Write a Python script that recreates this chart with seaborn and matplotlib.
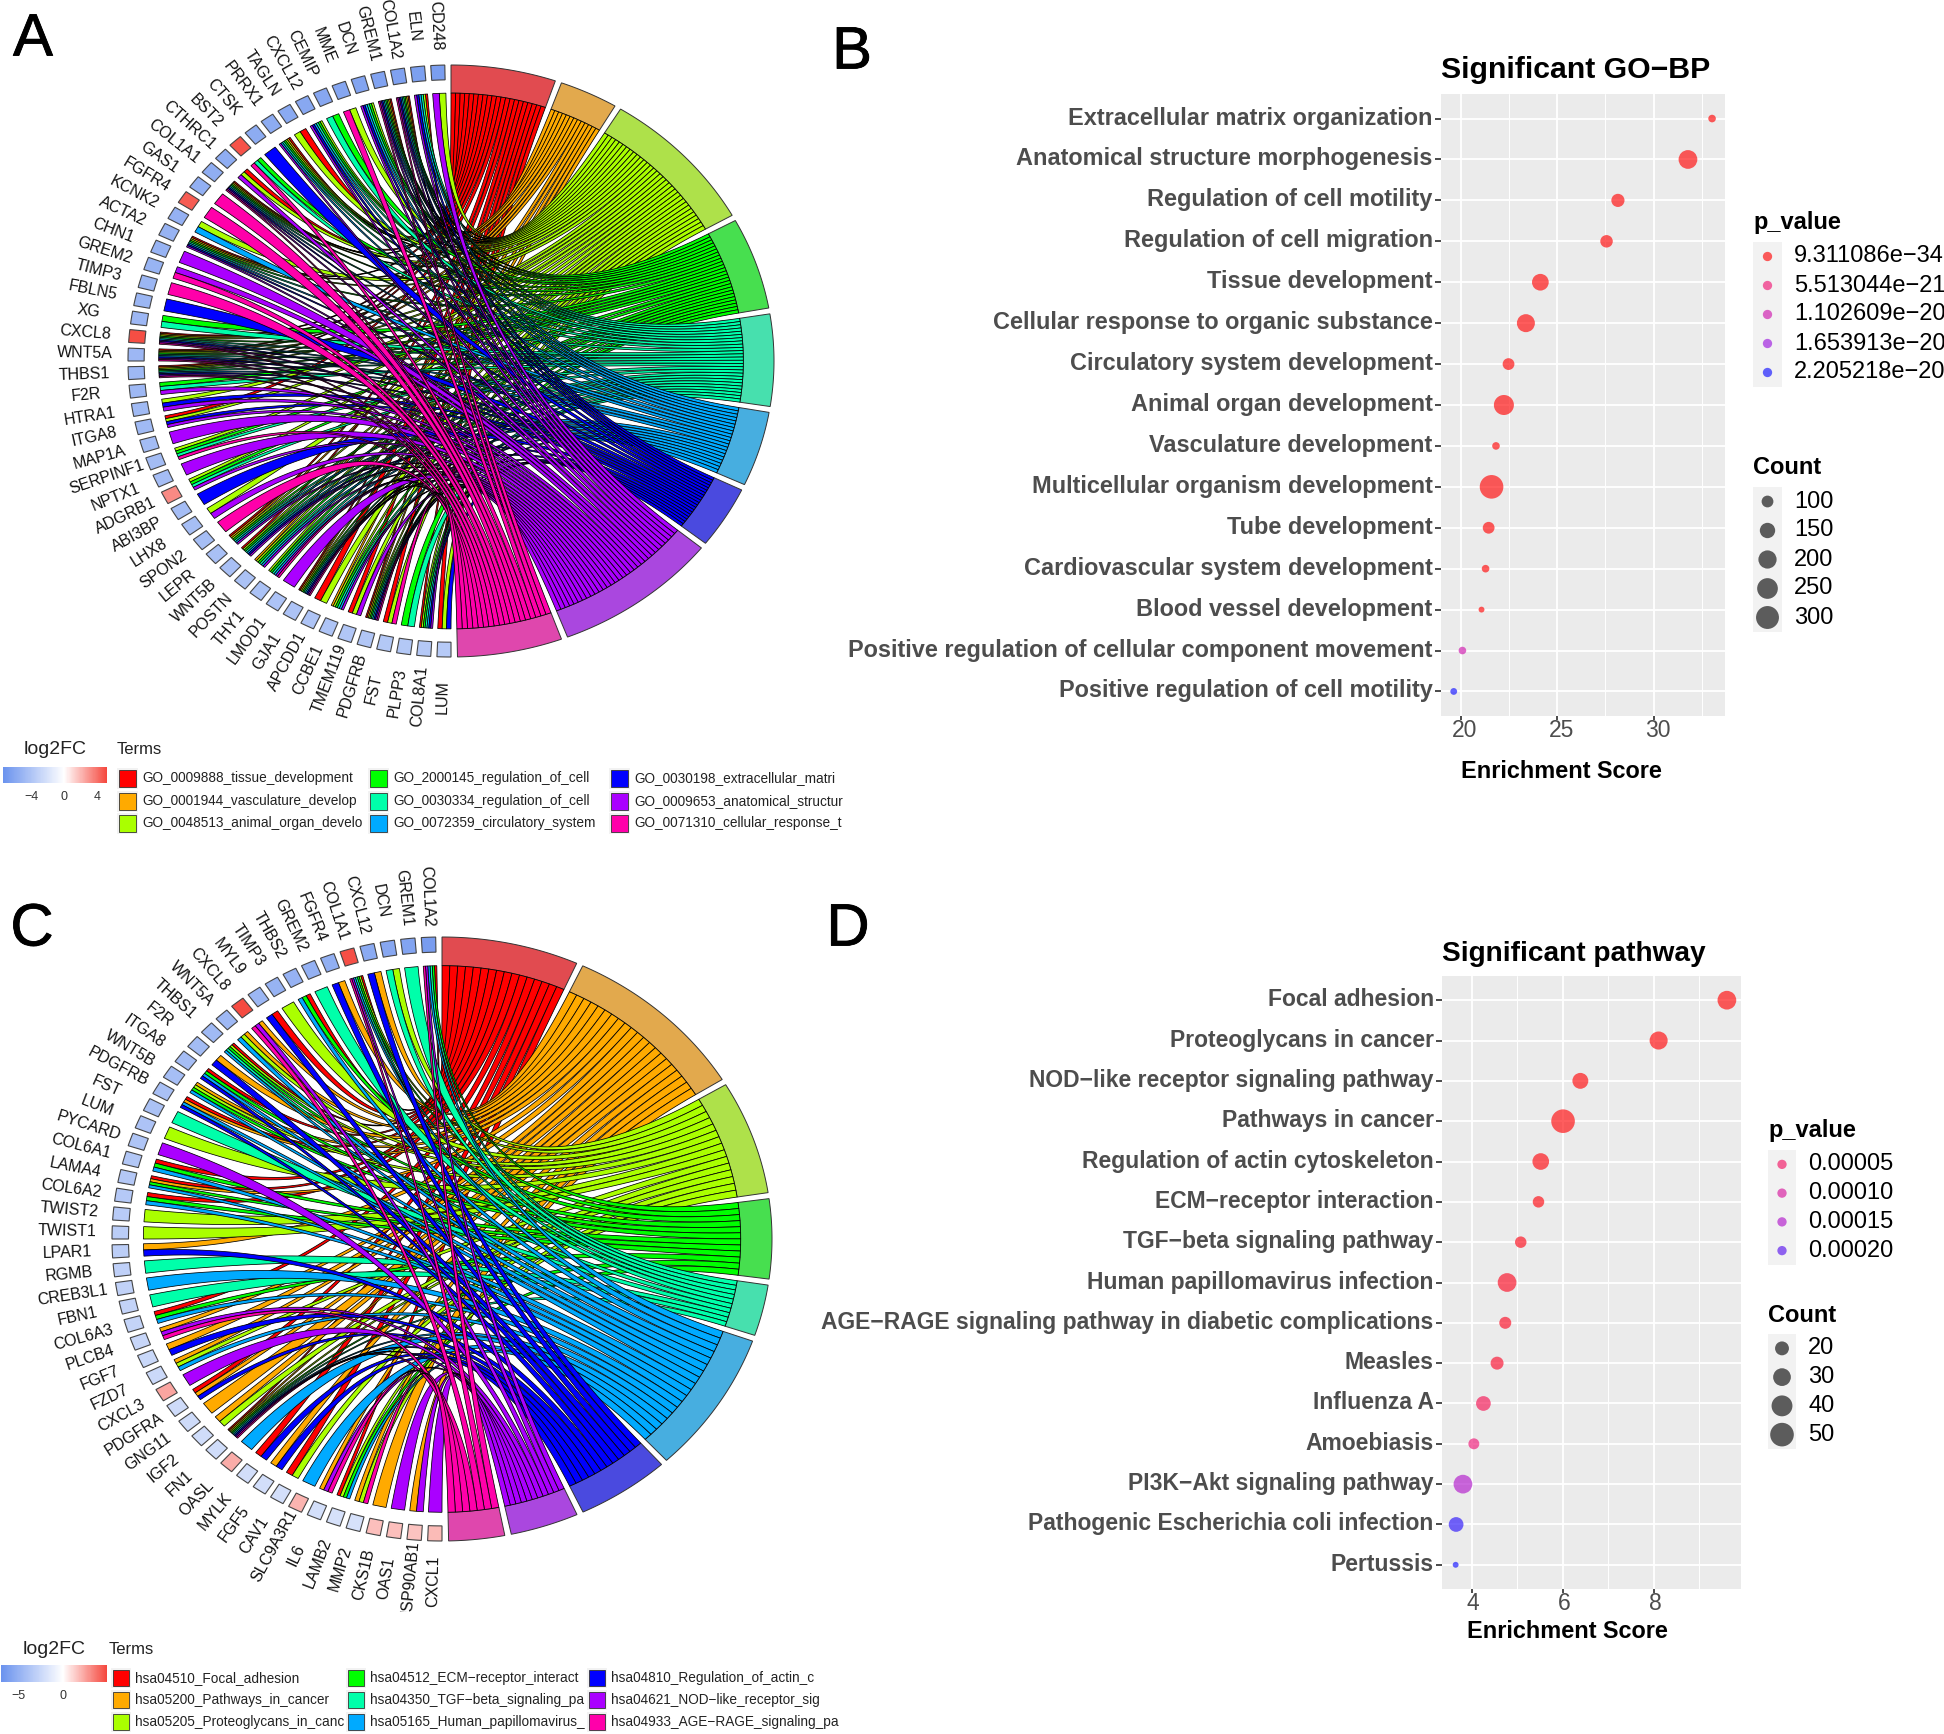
import numpy as np
import pandas as pd
import matplotlib
matplotlib.use("Agg")
import matplotlib.pyplot as plt
import matplotlib.patheffects as pe
import seaborn as sns
from matplotlib.colors import LinearSegmentedColormap, TwoSlopeNorm
from matplotlib.patches import Rectangle
from matplotlib.transforms import ScaledTranslation

# panel A
genes_a = ["CD248", "ELN", "COL1A2", "GREM1", "DCN", "MME", "CEMIP", "CXCL12", "TAGLN", "PRRX1",
           "CTSK", "BST2", "CTHRC1", "COL1A1", "GAS1", "FGFR4", "KCNK2", "ACTA2", "CHN1", "GREM2",
           "TIMP3", "FBLN5", "XG", "CXCL8", "WNT5A", "THBS1", "F2R", "HTRA1", "ITGA8", "MAP1A",
           "SERPINF1", "NPTX1", "ADGRB1", "ABI3BP", "LHX8", "SPON2", "LEPR", "WNT5B", "POSTN", "THY1",
           "LMOD1", "GJA1", "APCDD1", "CCBE1", "TMEM119", "PDGFRB", "FST", "PLPP3", "COL8A1", "LUM"]
# terms of each gene, digits 1-9 are the nine GO terms
links_a = ["38", "135678", "123456789", "123456789", "345678", "39", "45", "345678", "13", "1234568",
           "7", "459", "138", "123456789", "9", "9", "36", "12345678", "8", "89",
           "9", "7", "45", "123456789", "123456789", "123456789", "458", "378", "1378", "8",
           "3459", "8", "3458", "7", "38", "9", "1234568", "1345678", "234568", "345689",
           "8", "123456789", "13", "234568", "138", "123456789", "139", "45", "1345678", "137"]
logfc_a = [-6.6, -6.5, -6.4, -6.3, -6.2, -6.1, -6.0, -5.9, -5.8, -5.7,
           -5.7, 4.9, -5.6, -5.5, -5.4, 4.6, -5.3, -5.2, -5.2, -5.1,
           -5.0, -5.0, -4.9, 5.0, -4.9, -4.8, -4.8, -4.7, -4.7, -4.6,
           -4.6, -4.5, 3.3, -4.5, -4.4, -4.4, -4.3, -4.3, -4.2, -4.2,
           -4.1, -4.1, -4.0, -4.0, -3.9, -3.9, -3.8, -3.8, -3.7, -3.6]
term_size_a = [24, 14, 36, 23, 23, 19, 16, 37, 24]
terms_a = ["GO_0009888_tissue_development", "GO_0001944_vasculature_develop", "GO_0048513_animal_organ_develo",
           "GO_2000145_regulation_of_cell", "GO_0030334_regulation_of_cell", "GO_0072359_circulatory_system",
           "GO_0030198_extracellular_matri", "GO_0009653_anatomical_structur", "GO_0071310_cellular_response_t"]

# panel C
genes_c = ["COL1A2", "GREM1", "DCN", "CXCL12", "COL1A1", "FGFR4", "GREM2", "THBS2", "TIMP3", "MYL9",
           "CXCL8", "WNT5A", "THBS1", "F2R", "ITGA8", "WNT5B", "PDGFRB", "FST", "LUM", "PYCARD",
           "COL6A1", "LAMA4", "COL6A2", "TWIST2", "TWIST1", "LPAR1", "RGMB", "CREB3L1", "FBN1", "COL6A3",
           "PLCB4", "FGF7", "FZD7", "CXCL3", "PDGFRA", "GNG11", "IGF2", "FN1", "OASL", "MYLK",
           "FGF5", "CAV1", "SLC9A3R1", "IL6", "LAMB2", "MMP2", "CKS1B", "OAS1", "HSP90AB1", "CXCL1"]
links_c = ["145689", "5", "35", "27", "1345689", "27", "5", "146", "3", "17",
           "289", "236", "13456", "27", "1467", "2346", "1267", "5", "3", "8",
           "146", "1246", "146", "3", "3", "27", "5", "6", "5", "146",
           "289", "27", "236", "8", "127", "2", "23", "123456789", "6", "17",
           "27", "13", "6", "289", "1346", "239", "2", "8", "28", "8"]
logfc_c = [-6.3, -5.8, -5.6, -5.4, 4.7, -5.1, -5.0, -4.9, -4.8, -4.6,
           4.8, -4.5, -4.4, -4.3, -4.2, -4.1, -4.0, -3.9, -3.8, -3.7,
           -3.6, -3.5, -3.4, -3.3, -3.2, -3.1, -3.0, -2.9, -2.8, -2.7,
           -2.6, -2.5, -2.4, 2.4, -2.3, -2.3, -2.2, -2.2, 2.2, -2.1,
           -2.1, -2.0, 2.0, -2.0, -1.9, -1.9, 1.7, 1.7, 1.6, 1.8]
term_size_c = [23, 31, 21, 15, 10, 26, 16, 12, 10]
terms_c = ["hsa04510_Focal_adhesion", "hsa05200_Pathways_in_cancer", "hsa05205_Proteoglycans_in_canc",
           "hsa04512_ECM\u2212receptor_interact", "hsa04350_TGF\u2212beta_signaling_pa", "hsa05165_Human_papillomavirus_",
           "hsa04810_Regulation_of_actin_c", "hsa04621_NOD\u2212like_receptor_sig", "hsa04933_AGE\u2212RAGE_signaling_pa"]

term_colors = ["#ff0000", "#ffaa00", "#aaff00", "#00ff00", "#00ffaa", "#00aaff", "#0000ff", "#aa00ff", "#ff00aa"]
band_colors = ["#e14b50", "#e2a94d", "#aee14a", "#47df4f", "#47e0ae", "#47aee0", "#4a4adf", "#aa47df", "#df47ad"]

# panel B
bp_terms = ["Extracellular matrix organization", "Anatomical structure morphogenesis", "Regulation of cell motility",
            "Regulation of cell migration", "Tissue development", "Cellular response to organic substance",
            "Circulatory system development", "Animal organ development", "Vasculature development",
            "Multicellular organism development", "Tube development", "Cardiovascular system development",
            "Blood vessel development", "Positive regulation of cellular component movement",
            "Positive regulation of cell motility"]
bp_score = [33.03, 31.78, 28.15, 27.56, 24.13, 23.38, 22.48, 22.24, 21.83, 21.6, 21.45, 21.29, 21.08, 20.09, 19.64]
bp_count = [58, 210, 118, 109, 173, 196, 100, 236, 58, 317, 100, 58, 46, 58, 52]
bp_p = [9.3e-34, 2e-29, 1e-27, 1e-27, 1e-26, 1e-26, 1e-25, 1e-25, 2e-25, 1e-25, 1e-24, 1e-24, 1e-23, 1.1e-20, 2.2e-20]
bp_p_legend = [9.311086e-34, 5.513044e-21, 1.102609e-20, 1.653913e-20, 2.205218e-20]
bp_p_labels = ["9.311086e\u221234", "5.513044e\u221221", "1.102609e\u221220", "1.653913e\u221220", "2.205218e\u221220"]
bp_count_legend = [100, 150, 200, 250, 300]

# panel D
kegg_terms = ["Focal adhesion", "Proteoglycans in cancer", "NOD\u2212like receptor signaling pathway", "Pathways in cancer",
              "Regulation of actin cytoskeleton", "ECM\u2212receptor interaction", "TGF\u2212beta signaling pathway",
              "Human papillomavirus infection", "AGE\u2212RAGE signaling pathway in diabetic complications", "Measles",
              "Influenza A", "Amoebiasis", "PI3K\u2212Akt signaling pathway", "Pathogenic Escherichia coli infection", "Pertussis"]
kegg_score = [9.61, 8.11, 6.39, 6.01, 5.52, 5.47, 5.08, 4.78, 4.74, 4.56, 4.26, 4.05, 3.81, 3.66, 3.65]
kegg_count = [33, 31, 25, 50, 27, 15, 15, 33, 16, 18, 22, 14, 33, 22, 7]
kegg_p = [1e-7, 1e-6, 2e-6, 2e-6, 4e-6, 5e-6, 1e-5, 1.5e-5, 1.5e-5, 2e-5, 4e-5, 6e-5, 1.5e-4, 2.2e-4, 2.3e-4]
kegg_p_legend = [0.00005, 0.00010, 0.00015, 0.00020]
kegg_p_labels = ["0.00005", "0.00010", "0.00015", "0.00020"]
kegg_count_legend = [20, 30, 40, 50]

W, H = 1944, 1734
sns.set_theme(style="darkgrid")
plt.rcParams['font.family'] = ['Liberation Sans', 'DejaVu Sans']

fig = plt.figure(figsize=(W / 100, H / 100), dpi=100, facecolor="white")


def px_axes(left, top, right, bottom, **kw):
    return fig.add_axes([left / W, 1 - bottom / H, (right - left) / W, (bottom - top) / H], **kw)


overlay = px_axes(0, 0, W, H)
overlay.set_xlim(0, W)
overlay.set_ylim(H, 0)
overlay.axis("off")
overlay.set_zorder(5)

fc_cmap = LinearSegmentedColormap.from_list("fc", ["#6b93ee", "#ffffff", "#f5483e"])
p_cmap = LinearSegmentedColormap.from_list("p", ["#ff1010", "#f0207a", "#d020b0", "#a020e0", "#1a1aff"])


def arc(theta1, theta2, r, n=12):
    th = np.radians(np.linspace(theta1, theta2, n))
    return np.column_stack([r * np.cos(th), r * np.sin(th)])


def draw_chord(box, center, radii, genes, links, term_size, logfc, fc_norm):
    ax = px_axes(*box)
    ax.patch.set_alpha(0)
    cx, cy = center
    rx, ry = radii
    ax.set_xlim((box[0] - cx) / rx, (box[2] - cx) / rx)
    ax.set_ylim((cy - box[3]) / ry, (cy - box[1]) / ry)
    ax.axis("off")
    r_in = 0.905
    pitch = 180 / len(genes)
    gene_gap = 1.0
    term_gap = 1.15

    # slots of the terms
    term_slots = []
    start = 90.0
    for j, size in enumerate(term_size):
        span = 180 * size / sum(term_size)
        end = start - span + term_gap
        band = np.vstack([arc(start, end, 1.0, 40), arc(end, start, r_in, 40)])
        ax.fill(band[:, 0], band[:, 1], facecolor=band_colors[j], edgecolor="#333333", linewidth=0.7)
        n = sum(str(j + 1) in lk for lk in links)
        term_slots.append(np.linspace(start, end, n + 1))
        start -= span

    # slots of the genes
    ribbons = {j: [] for j in range(len(term_size))}
    for g, name in enumerate(genes):
        lo = 90 + g * pitch + gene_gap
        hi = 90 + (g + 1) * pitch
        edges = np.linspace(lo, hi, len(links[g]) + 1)
        for k, ch in enumerate(links[g]):
            ribbons[int(ch) - 1].append((edges[k], edges[k + 1]))
        box_pts = np.vstack([arc(lo + 0.1, hi, 1.0, 6), arc(hi, lo + 0.1, 0.95, 6)])
        ax.fill(box_pts[:, 0], box_pts[:, 1], facecolor=fc_cmap(fc_norm(logfc[g])), edgecolor="#444444", linewidth=0.8)
        mid = np.radians((lo + hi) / 2)
        dx, dy = rx * np.cos(mid), ry * np.sin(mid)
        rot = np.degrees(np.arctan2(dy, dx)) % 360 - 180
        ax.text(1.135 * np.cos(mid), 1.135 * np.sin(mid), name, rotation=rot, rotation_mode="anchor",
                ha="center", va="center", fontsize=11.5, color="#111111", clip_on=True)

    # ribbons, quadratic curve pulled to the centre
    t = np.linspace(0, 1, 61)[:, None]
    for j in range(len(term_size)):
        for i, (g_lo, g_hi) in enumerate(ribbons[j]):
            a1, a2 = np.radians(term_slots[j][i]), np.radians(term_slots[j][i + 1])
            b1, b2 = np.radians(g_lo), np.radians(g_hi)
            p1 = r_in * np.array([np.cos(a1), np.sin(a1)])
            p2 = r_in * np.array([np.cos(a2), np.sin(a2)])
            q1 = r_in * np.array([np.cos(b1), np.sin(b1)])
            q2 = r_in * np.array([np.cos(b2), np.sin(b2)])
            c1 = (1 - t) ** 2 * p1 + t ** 2 * q1
            c2 = (1 - t) ** 2 * p2 + t ** 2 * q2
            poly = np.vstack([c1, c2[::-1]])
            ax.fill(poly[:, 0], poly[:, 1], facecolor=term_colors[j], edgecolor="black", linewidth=0.55)
    return ax


def chord_legend(bar, fc_norm, ticks, tick_y, title_y, terms_x, key_cols, key_rows, labels, key_size):
    left, top, right, bottom = bar
    vals = np.linspace(fc_norm.vmin, fc_norm.vmax, 200)
    edges = np.linspace(left, right, 201)
    overlay.pcolormesh(edges, [top, bottom], vals[None, :], cmap=fc_cmap, norm=fc_norm)
    overlay.set_xlim(0, W)
    overlay.set_ylim(H, 0)
    scale = (right - left) / (fc_norm.vmax - fc_norm.vmin)
    for v in ticks:
        x = left + (v - fc_norm.vmin) * scale
        overlay.text(x, tick_y, str(v).replace("-", "\u2212"), ha="center", va="center", fontsize=9, color="#333333")
    overlay.text((left + right) / 2, title_y, "log2FC", ha="center", va="center", fontsize=14, color="#222222")
    overlay.text(terms_x, title_y, "Terms", ha="left", va="center", fontsize=12, color="#222222")
    idx = 0
    for col in key_cols:
        for row in key_rows:
            overlay.add_patch(Rectangle((col - 2, row - key_size / 2 - 2), key_size + 4, key_size + 4, facecolor="#f2f2f2", edgecolor="none"))
            overlay.add_patch(Rectangle((col, row - key_size / 2), key_size, key_size, facecolor=term_colors[idx], edgecolor="#333333", linewidth=0.6))
            overlay.text(col + key_size + 6, row, labels[idx], ha="left", va="center", fontsize=9.8, color="#222222", clip_on=True)
            idx += 1


def dot_panel(box, terms, score, count, pvals, p_max, xlim, ticks, minor, title, title_size, title_y, xlabel_x, xlabel_y, tick_dx, label_size):
    ax = px_axes(*box)
    df = pd.DataFrame({"term": terms, "score": score, "count": count, "p": pvals})
    sns.scatterplot(data=df, x="score", y="term", hue="p", size="count", ax=ax, palette=p_cmap, hue_norm=(0, p_max),
                    sizes=(18, 289), size_norm=(min(count), max(count)), alpha=0.68, linewidth=0, legend=False, zorder=3)
    ax.set_facecolor("#ebebeb")
    ax.set_xlim(*xlim)
    ax.set_ylim(len(terms) - 0.4, -0.6)
    ax.set_xticks(ticks)
    ax.set_xticks(minor, minor=True)
    ax.grid(which="major", color="white", linewidth=1.3)
    ax.grid(which="minor", axis="x", color="white", linewidth=0.7)
    ax.tick_params(axis="x", which="major", length=3, color="#333333", labelsize=16.5, labelcolor="#4d4d4d", pad=0, bottom=True)
    ax.tick_params(axis="x", which="minor", length=0)
    ax.tick_params(axis="y", length=4, color="#333333", pad=2, left=True)
    shift_x = ScaledTranslation(tick_dx / 100, 1 / 100, fig.dpi_scale_trans)
    shift_y = ScaledTranslation(0, 3 / 100, fig.dpi_scale_trans)
    for lab in ax.get_xticklabels():
        lab.set_transform(lab.get_transform() + shift_x)
    for lab in ax.get_yticklabels():
        lab.set_fontsize(label_size)
        lab.set_fontweight("bold")
        lab.set_color("#4d4d4d")
        lab.set_transform(lab.get_transform() + shift_y)
    for sp in ax.spines.values():
        sp.set_visible(False)
    ax.set_xlabel("")
    ax.set_ylabel("")
    overlay.text(box[0], title_y, title, ha="left", va="center", fontsize=title_size, fontweight="bold", color="black")
    overlay.text(xlabel_x, xlabel_y, "Enrichment Score", ha="center", va="center", fontsize=16.9, fontweight="bold", color="black")
    return ax


def dot_legend(title, title_y, key_box, x_label, values, labels, hue=None, p_max=None, cnt_range=None):
    n = len(values)
    ax = px_axes(*key_box)
    ax.set_facecolor("#f2f2f2")
    rows = list(range(n))
    if hue is not None:
        d = pd.DataFrame({"x": [0] * n, "y": rows, "p": values})
        sns.scatterplot(data=d, x="x", y="y", hue="p", palette=p_cmap, hue_norm=(0, p_max), s=45, alpha=0.68, linewidth=0, legend=False, ax=ax)
    else:
        d = pd.DataFrame({"x": [0] * n, "y": rows, "c": values})
        sns.scatterplot(data=d, x="x", y="y", size="c", sizes=(18, 289), size_norm=cnt_range, color="black", alpha=0.62, linewidth=0, legend=False, ax=ax)
    ax.set_xlim(-1, 1)
    ax.set_ylim(n - 0.5, -0.5)
    ax.grid(False)
    ax.set_xticks([])
    ax.set_yticks([])
    ax.set_xlabel("")
    ax.set_ylabel("")
    for sp in ax.spines.values():
        sp.set_visible(False)
    row_h = (key_box[3] - key_box[1]) / n
    for i, lab in enumerate(labels):
        overlay.text(x_label, key_box[1] + (i + 0.5) * row_h, lab, ha="left", va="center", fontsize=17, color="black")
    overlay.text(key_box[0], title_y, title, ha="left", va="center", fontsize=17, fontweight="bold", color="black")


# chord diagrams
norm_a = TwoSlopeNorm(vmin=-7.4, vcenter=0, vmax=5.2)
norm_c = TwoSlopeNorm(vmin=-6.9, vcenter=0, vmax=4.9)
draw_chord((0, 0, 840, 740), (451, 361), (323, 296), genes_a, links_a, term_size_a, logfc_a, norm_a)
draw_chord((0, 860, 840, 1612), (442, 1239), (330, 302), genes_c, links_c, term_size_c, logfc_c, norm_c)

chord_legend((3, 767, 107, 783), norm_a, [-4, 0, 4], 797, 750, 117, [119, 370, 611], [778, 801, 823], terms_a, 17)
chord_legend((1, 1665, 107, 1682), norm_c, [-5, 0], 1696, 1649, 109, [113, 348, 589], [1678, 1700, 1722], terms_c, 16)

# dot plots
dot_panel((1441, 94, 1725, 716), bp_terms, bp_score, bp_count, bp_p, 2.205218e-20, (18.98, 33.7), [20, 25, 30], [22.5, 27.5, 32.5],
          "Significant GO\u2212BP", 21.8, 70, 1561, 772, 4, 16.9)
dot_legend("p_value", 222, (1753, 242, 1782, 387), 1794, bp_p_legend, bp_p_labels, hue=True, p_max=2.205218e-20)
dot_legend("Count", 468, (1753, 487, 1782, 632), 1794, bp_count_legend, [str(v) for v in bp_count_legend], cnt_range=(46, 317))

dot_panel((1442, 976, 1741, 1589), kegg_terms, kegg_score, kegg_count, kegg_p, 2.3e-4, (3.35, 9.92), [4, 6, 8], [5, 7, 9],
          "Significant pathway", 20.2, 954, 1567, 1632, 1.5, 16.5)
dot_legend("p_value", 1131, (1768, 1150, 1796, 1265), 1808, kegg_p_legend, kegg_p_labels, hue=True, p_max=2.3e-4)
dot_legend("Count", 1315, (1768, 1334, 1796, 1449), 1808, kegg_count_legend, [str(v) for v in kegg_count_legend], cnt_range=(7, 50))

# panel letters
for letter, x, y in [("A", 33, 40), ("B", 852, 53), ("C", 32, 930), ("D", 848, 930)]:
    overlay.text(x, y, letter, ha="center", va="center", fontsize=43, color="black",
                 path_effects=[pe.withStroke(linewidth=0.6, foreground="black")])

fig.savefig("out.png", dpi=100, facecolor="white")
